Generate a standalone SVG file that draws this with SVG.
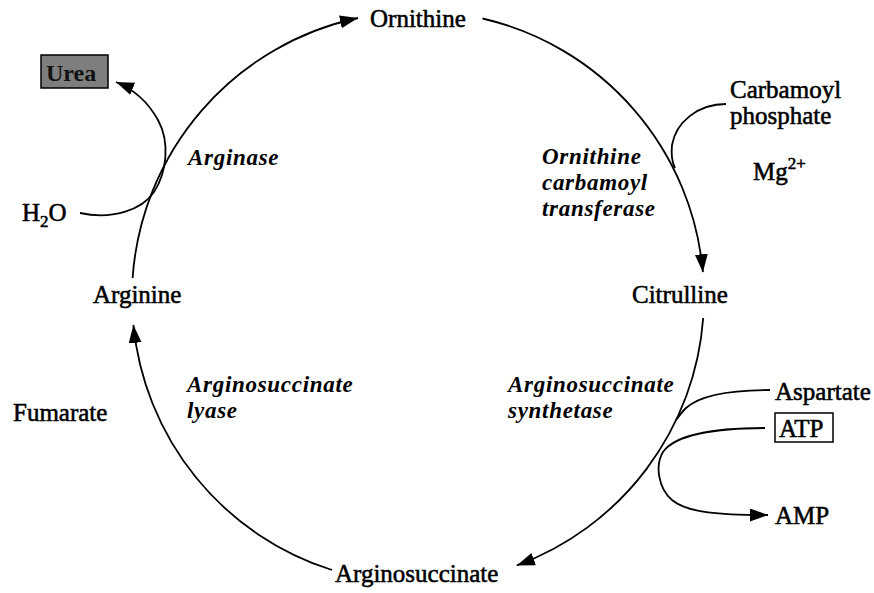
<svg xmlns="http://www.w3.org/2000/svg" width="874" height="593" viewBox="0 0 874 593">
  <style>
    .lbl { font-family: "Liberation Serif", "Times New Roman", serif; font-size: 25px; fill: #000; stroke: #000; stroke-width: 0.55; }
    .enz { font-family: "Liberation Serif", "Times New Roman", serif; font-size: 23px; font-style: italic; font-weight: bold; letter-spacing: 0.7px; fill: #000; }
    .line { fill: none; stroke: #000; stroke-width: 1.8; }
  </style>
  <defs>
    <marker id="head" markerUnits="userSpaceOnUse" markerWidth="20" markerHeight="14" refX="18" refY="6.5" orient="auto">
      <path d="M0,0 L18,6.5 L0,13 z" fill="#000"/>
    </marker>
  </defs>
  <rect width="874" height="593" fill="#fff"/>

  <!-- cycle arcs and side reactions -->
  <g id="connectors">
    <path class="line" d="M132.6,278 A286,286 0 0 1 358,18" marker-end="url(#head)"/>
    <path class="line" d="M482.5,18.5 A286,286 0 0 1 702.9,272.2" marker-end="url(#head)"/>
    <path class="line" d="M703.2,318 A286,286 0 0 1 516.8,565.4" marker-end="url(#head)"/>
    <path class="line" d="M332,570 A286,286 0 0 1 133.4,324.9" marker-end="url(#head)"/>
    <!-- H2O in, urea out -->
    <path class="line" d="M80,213 C112,220 142,210 154,192 C167,172 170,142 158,120 C148,102 133,89 116,82" marker-end="url(#head)"/>
    <!-- carbamoyl phosphate in -->
    <path class="line" d="M726,104 C698,104 676,122 672,145 C671,155 672,162 675,168"/>
    <!-- aspartate in -->
    <path class="line" d="M770,390 C730,390 700,395 686,408 C682,412 679,416 676,420"/>
    <!-- ATP in, AMP out -->
    <path class="line" d="M765,428 C715,428 675,435 663,452 C655,465 658,488 672,500 C688,513 720,515 768,515" marker-end="url(#head)"/>
  </g>

  <g id="ornithine"><text class="lbl" x="370" y="27">Ornithine</text></g>
  <g id="citrulline"><text class="lbl" x="632" y="303">Citrulline</text></g>
  <g id="arginosuccinate"><text class="lbl" x="335" y="582">Arginosuccinate</text></g>
  <g id="arginine"><text class="lbl" x="93" y="303">Arginine</text></g>

  <g id="urea">
    <rect x="41" y="55" width="67" height="33" fill="#7e7e7e" stroke="#000" stroke-width="1.5"/>
    <text x="46" y="81" font-family="Liberation Serif, serif" font-size="24" font-weight="bold" fill="#111">Urea</text>
  </g>
  <g id="water"><text class="lbl" x="22" y="221">H<tspan font-size="17" dy="6">2</tspan><tspan dy="-6">O</tspan></text></g>
  <g id="carbamoyl-phosphate">
    <text class="lbl" x="730" y="98">Carbamoyl</text>
    <text class="lbl" x="730" y="124">phosphate</text>
  </g>
  <g id="magnesium"><text class="lbl" x="753" y="180">Mg<tspan font-size="17" dy="-11">2+</tspan></text></g>
  <g id="fumarate"><text class="lbl" x="13" y="421">Fumarate</text></g>
  <g id="aspartate"><text class="lbl" x="775" y="400">Aspartate</text></g>
  <g id="atp">
    <rect x="775" y="413" width="58" height="29" fill="#fff" stroke="#000" stroke-width="1.5"/>
    <text class="lbl" x="779" y="437">ATP</text>
  </g>
  <g id="amp"><text class="lbl" x="775" y="524">AMP</text></g>

  <g id="arginase"><text class="enz" x="188" y="165">Arginase</text></g>
  <g id="otc">
    <text class="enz" x="542" y="164">Ornithine</text>
    <text class="enz" x="542" y="190">carbamoyl</text>
    <text class="enz" x="542" y="216">transferase</text>
  </g>
  <g id="as-lyase">
    <text class="enz" x="187" y="392">Arginosuccinate</text>
    <text class="enz" x="187" y="418">lyase</text>
  </g>
  <g id="as-synthetase">
    <text class="enz" x="508" y="392">Arginosuccinate</text>
    <text class="enz" x="508" y="418">synthetase</text>
  </g>
</svg>
